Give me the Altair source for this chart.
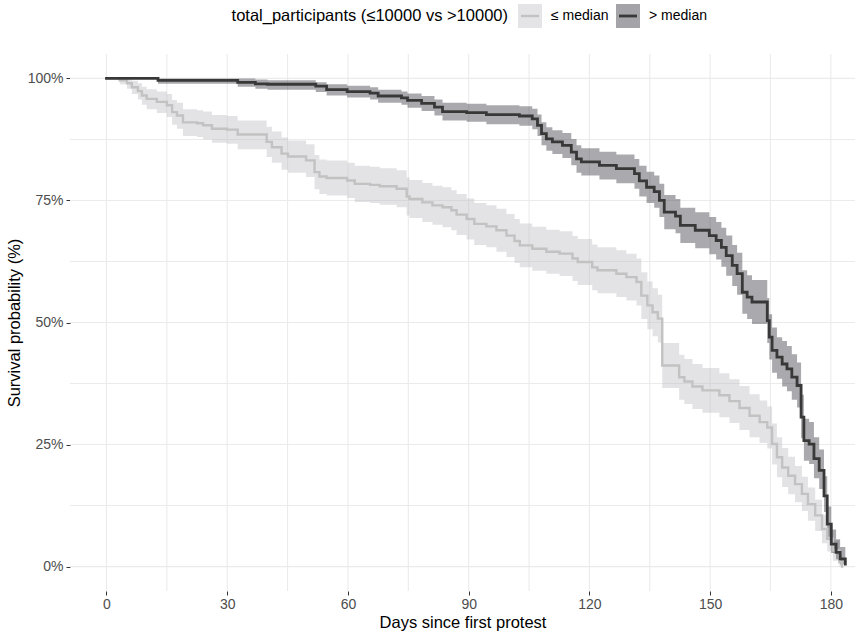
import altair as alt
import pandas as pd

group_names = ["≤ median", "> median"]

# ---- "> median" (dark) Kaplan-Meier steps ----
days_hi = [0, 12.8, 32.6, 37.0, 40.0, 52.0, 54.7, 59.8, 65.5, 67.5,
           73.3, 74.8, 78.3, 81.5, 83.5, 89.5, 94.4, 102.6, 105.8, 107.1,
           108.1, 109.3, 110.8, 113.3, 115.5, 116.8, 118.0, 122.5, 126.7, 131.2,
           132.4, 134.2, 136.1, 137.4, 138.6, 141.4, 142.6, 146.3, 149.8, 151.5,
           152.8, 154.0, 155.5, 156.7, 158.0, 159.2, 160.4, 164.2, 164.7, 165.4,
           166.6, 167.9, 169.1, 170.3, 171.6, 172.6, 173.3, 174.6, 175.8, 177.1,
           178.3, 179.1, 180.1, 181.3, 182.3, 183.6]
surv_hi = [100, 99.6, 99.2, 98.9, 98.8, 98.4, 97.7, 97.3, 97.0, 96.4,
           96.0, 95.5, 94.9, 94.1, 93.2, 93.0, 92.6, 92.3, 91.7, 90.4,
           88.7, 87.6, 87.0, 86.3, 84.9, 83.5, 82.9, 82.2, 81.5, 80.5,
           79.0, 77.7, 76.8, 75.0, 72.6, 71.8, 69.9, 68.9, 67.8, 66.8,
           65.4, 63.7, 61.7, 60.0, 56.2, 55.2, 54.2, 50.4, 47.0, 44.3,
           42.9, 41.5, 40.5, 38.8, 37.1, 30.6, 25.8, 25.1, 22.1, 19.7,
           14.5, 8.7, 4.6, 2.9, 1.6, 0.5]
lower_hi = [100, 98.9, 98.3, 97.9, 97.7, 97.2, 96.5, 96.1, 95.7, 95.0,
            94.6, 94.0, 93.3, 92.4, 91.4, 91.1, 90.6, 90.3, 89.6, 88.2,
            86.3, 85.2, 84.5, 83.7, 82.2, 80.7, 80.1, 79.3, 78.5, 77.4,
            75.8, 74.5, 73.5, 71.6, 69.1, 68.3, 66.3, 65.2, 64.0, 62.9,
            61.4, 59.6, 57.5, 55.7, 51.8, 50.7, 49.7, 45.8, 42.4, 39.7,
            38.5, 36.9, 35.9, 34.2, 32.6, 26.3, 21.7, 21.0, 18.1, 15.9,
            11.2, 6.1, 2.8, 1.5, 0.5, 0]
upper_hi = [100, 100, 100, 99.8, 99.6, 99.2, 98.8, 98.5, 98.2, 97.7,
            97.3, 96.9, 96.4, 95.7, 95.0, 94.8, 94.5, 94.3, 93.8, 92.6,
            91.0, 90.0, 89.4, 88.8, 87.6, 86.3, 85.7, 85.0, 84.4, 83.5,
            82.1, 80.9, 80.1, 78.4, 76.1, 75.3, 73.5, 72.6, 71.6, 70.6,
            69.4, 67.8, 65.9, 64.3, 60.7, 59.7, 58.7, 55.0, 51.7, 49.0,
            47.0, 46.2, 45.2, 43.5, 41.8, 35.2, 30.3, 29.6, 26.5, 24.0,
            18.5, 12.3, 7.6, 5.6, 4.0, 2.0]

# ---- "≤ median" (light) Kaplan-Meier steps ----
days_lo = [0, 3.3, 5.1, 6.3, 7.8, 8.8, 10.0, 12.5, 15.0, 16.3,
           17.5, 19.0, 22.5, 24.0, 26.2, 29.9, 32.6, 39.8, 41.1, 43.5,
           45.1, 49.6, 51.7, 52.9, 54.7, 59.8, 61.7, 65.5, 67.9, 72.1,
           74.6, 75.3, 78.5, 81.0, 83.5, 85.7, 87.0, 89.5, 91.4, 94.4,
           96.9, 99.4, 101.4, 102.7, 105.8, 109.3, 112.6, 115.8, 117.1, 120.7,
           122.0, 126.7, 129.2, 131.7, 132.9, 134.4, 135.7, 137.0, 138.1, 142.3,
           143.6, 145.6, 148.1, 152.3, 154.8, 157.3, 159.8, 162.3, 164.2, 165.4,
           166.6, 167.9, 169.4, 171.1, 172.8, 174.3, 176.1, 177.8, 179.1, 180.5,
           182.1, 182.8]
surv_lo = [100, 99.6, 99.0, 98.2, 97.4, 96.5, 95.8, 95.2, 94.5, 93.1,
           92.4, 91.0, 90.8, 90.4, 89.7, 89.5, 88.5, 87.0, 85.9, 84.6,
           84.0, 83.2, 80.8, 79.9, 79.6, 79.1, 78.4, 78.2, 77.9, 77.4,
           75.8, 75.3, 74.6, 74.0, 73.6, 73.0, 72.1, 71.2, 70.2, 69.7,
           68.9, 67.8, 66.7, 65.8, 65.1, 64.5, 64.1, 63.1, 62.4, 61.3,
           60.7, 60.0, 59.3, 58.3, 55.5, 53.5, 52.1, 50.8, 41.2, 38.8,
           37.9, 36.9, 36.1, 35.1, 33.9, 32.5, 30.9, 29.6, 28.5, 25.1,
           22.4, 20.3, 18.6, 16.9, 14.9, 12.8, 10.5, 7.7, 5.7, 3.3,
           0.9, 0]
lower_lo = [100, 98.8, 97.9, 96.8, 95.7, 94.6, 93.7, 92.9, 92.1, 90.5,
            89.7, 88.2, 88.0, 87.5, 86.8, 86.6, 85.5, 83.9, 82.7, 81.3,
            80.7, 79.8, 77.3, 76.3, 76.0, 75.5, 74.7, 74.5, 74.1, 73.6,
            71.9, 71.4, 70.6, 70.0, 69.5, 68.9, 67.9, 67.0, 65.9, 65.4,
            64.5, 63.4, 62.2, 61.3, 60.6, 60.0, 59.5, 58.5, 57.7, 56.6,
            56.0, 55.2, 54.5, 53.5, 50.7, 48.6, 47.2, 45.9, 36.6, 34.2,
            33.3, 32.3, 31.5, 30.6, 29.4, 28.0, 26.5, 25.3, 24.2, 20.9,
            18.3, 16.3, 14.8, 13.2, 11.4, 9.4, 7.3, 4.8, 3.1, 1.2,
            0, 0]
upper_lo = [100, 100, 100, 99.5, 99.0, 98.3, 97.8, 97.3, 96.8, 95.6,
            95.0, 93.7, 93.5, 93.2, 92.5, 92.3, 91.4, 90.1, 89.1, 87.9,
            87.3, 86.5, 84.3, 83.4, 83.2, 82.7, 82.1, 81.9, 81.6, 81.2,
            79.7, 79.2, 78.6, 78.0, 77.7, 77.1, 76.3, 75.4, 74.5, 74.0,
            73.3, 72.2, 71.2, 70.3, 69.6, 69.0, 68.7, 67.7, 67.1, 66.0,
            65.4, 64.8, 64.1, 63.1, 60.3, 58.4, 57.0, 55.7, 45.8, 43.4,
            42.5, 41.5, 40.7, 39.6, 38.4, 37.0, 35.3, 34.0, 32.8, 29.3,
            26.5, 24.3, 22.5, 20.6, 18.4, 16.2, 13.7, 10.6, 8.3, 5.4,
            2.5, 0]

x_ticks = [0, 30, 60, 90, 120, 150, 180]
x_grid = [0, 15, 30, 45, 60, 75, 90, 105, 120, 135, 150, 165, 180]
y_ticks = [0, 25, 50, 75, 100]
y_grid = [0, 12.5, 25, 37.5, 50, 62.5, 75, 87.5, 100]

legend_title = "total_participants (≤10000 vs >10000)"


def frame(name, d, s, lo, up):
    return pd.DataFrame({"group": name, "day": d, "surv": s, "lower": lo, "upper": up})


df = pd.concat([
    frame(group_names[0], days_lo, surv_lo, lower_lo, upper_lo),
    frame(group_names[1], days_hi, surv_hi, lower_hi, upper_hi),
], ignore_index=True)

FONT = "Liberation Sans"
W, H = 785, 537

xs = alt.Scale(domain=[-9.07, 186.0], nice=False, zero=False)
ys = alt.Scale(domain=[-5, 105], nice=False, zero=False)

x_axis = alt.Axis(values=x_ticks, grid=False, domain=False, ticks=True, tickSize=4,
                  tickColor="#333333", tickWidth=1, labelColor="#4D4D4D", labelFontSize=14,
                  labelFont=FONT, labelPadding=2, title="Days since first protest",
                  titleFont=FONT, titleFontSize=16.5, titleFontWeight="normal",
                  titleColor="#000000", titlePadding=3)
y_axis = alt.Axis(values=y_ticks, grid=False, domain=False, ticks=True, tickSize=4,
                  tickColor="#333333", tickWidth=1, labelColor="#4D4D4D", labelFontSize=14,
                  labelFont=FONT, labelPadding=3, labelExpr="datum.value + '%'",
                  title="Survival probability (%)", titleFont=FONT, titleFontSize=16.5,
                  titleFontWeight="normal", titleColor="#000000", titlePadding=5)

grid_x = alt.Chart(pd.DataFrame({"day": x_grid})).mark_rule(
    color="#EBEBEB", strokeWidth=1.1).encode(x=alt.X("day:Q", scale=xs, axis=x_axis))
grid_y = alt.Chart(pd.DataFrame({"surv": y_grid})).mark_rule(
    color="#EBEBEB", strokeWidth=1.1).encode(y=alt.Y("surv:Q", scale=ys, axis=y_axis))

fill_scale = alt.Scale(domain=group_names, range=["#BDBDC2", "#35353E"])
line_scale = alt.Scale(domain=group_names, range=["#C2C2C2", "#383838"])
width_scale = alt.Scale(domain=group_names, range=[2.4, 2.8])

bands = alt.Chart(df).mark_area(interpolate="step-after", opacity=0.42).encode(
    x=alt.X("day:Q", scale=xs, axis=x_axis),
    y=alt.Y("lower:Q", scale=ys, axis=y_axis),
    y2="upper:Q",
    fill=alt.Fill("group:N", scale=fill_scale, legend=None),
)

lines = alt.Chart(df).mark_line(interpolate="step-after", strokeCap="square",
                                strokeJoin="miter").encode(
    x=alt.X("day:Q", scale=xs, axis=x_axis),
    y=alt.Y("surv:Q", scale=ys, axis=y_axis),
    color=alt.Color("group:N", scale=line_scale, legend=None),
    strokeWidth=alt.StrokeWidth("group:N", scale=width_scale, legend=None),
)

one = alt.Data(values=[{"k": 0}])
leg_title = alt.Chart(one).mark_text(
    text=legend_title, align="right", baseline="middle", font=FONT, fontSize=16.5,
    color="#000000").encode(x=alt.value(438), y=alt.value(-38))
key1 = alt.Chart(one).mark_rect(color="#E4E4E6").encode(
    x=alt.value(448), x2=alt.value(472), y=alt.value(-50), y2=alt.value(-26))
key1_line = alt.Chart(one).mark_rule(color="#C2C2C2", strokeWidth=2.4).encode(
    x=alt.value(451), x2=alt.value(469), y=alt.value(-38))
key1_text = alt.Chart(one).mark_text(
    text=group_names[0], align="left", baseline="middle", font=FONT, fontSize=14,
    color="#000000").encode(x=alt.value(481), y=alt.value(-38))
key2 = alt.Chart(one).mark_rect(color="#A3A3A8").encode(
    x=alt.value(546), x2=alt.value(570), y=alt.value(-50), y2=alt.value(-26))
key2_line = alt.Chart(one).mark_rule(color="#383838", strokeWidth=2.8).encode(
    x=alt.value(549), x2=alt.value(567), y=alt.value(-38))
key2_text = alt.Chart(one).mark_text(
    text=group_names[1], align="left", baseline="middle", font=FONT, fontSize=14,
    color="#000000").encode(x=alt.value(579), y=alt.value(-38))

chart = alt.layer(
    grid_x, grid_y, bands, lines,
    leg_title, key1, key1_line, key1_text, key2, key2_line, key2_text,
).properties(
    width=W, height=H,
    padding={"left": 70, "top": 54, "right": 6, "bottom": 42},
    autosize=alt.AutoSizeParams(type="none"),
    background="white",
).configure_view(stroke=None)

chart.save("out.html", embed_options={"renderer": "svg", "actions": False})
